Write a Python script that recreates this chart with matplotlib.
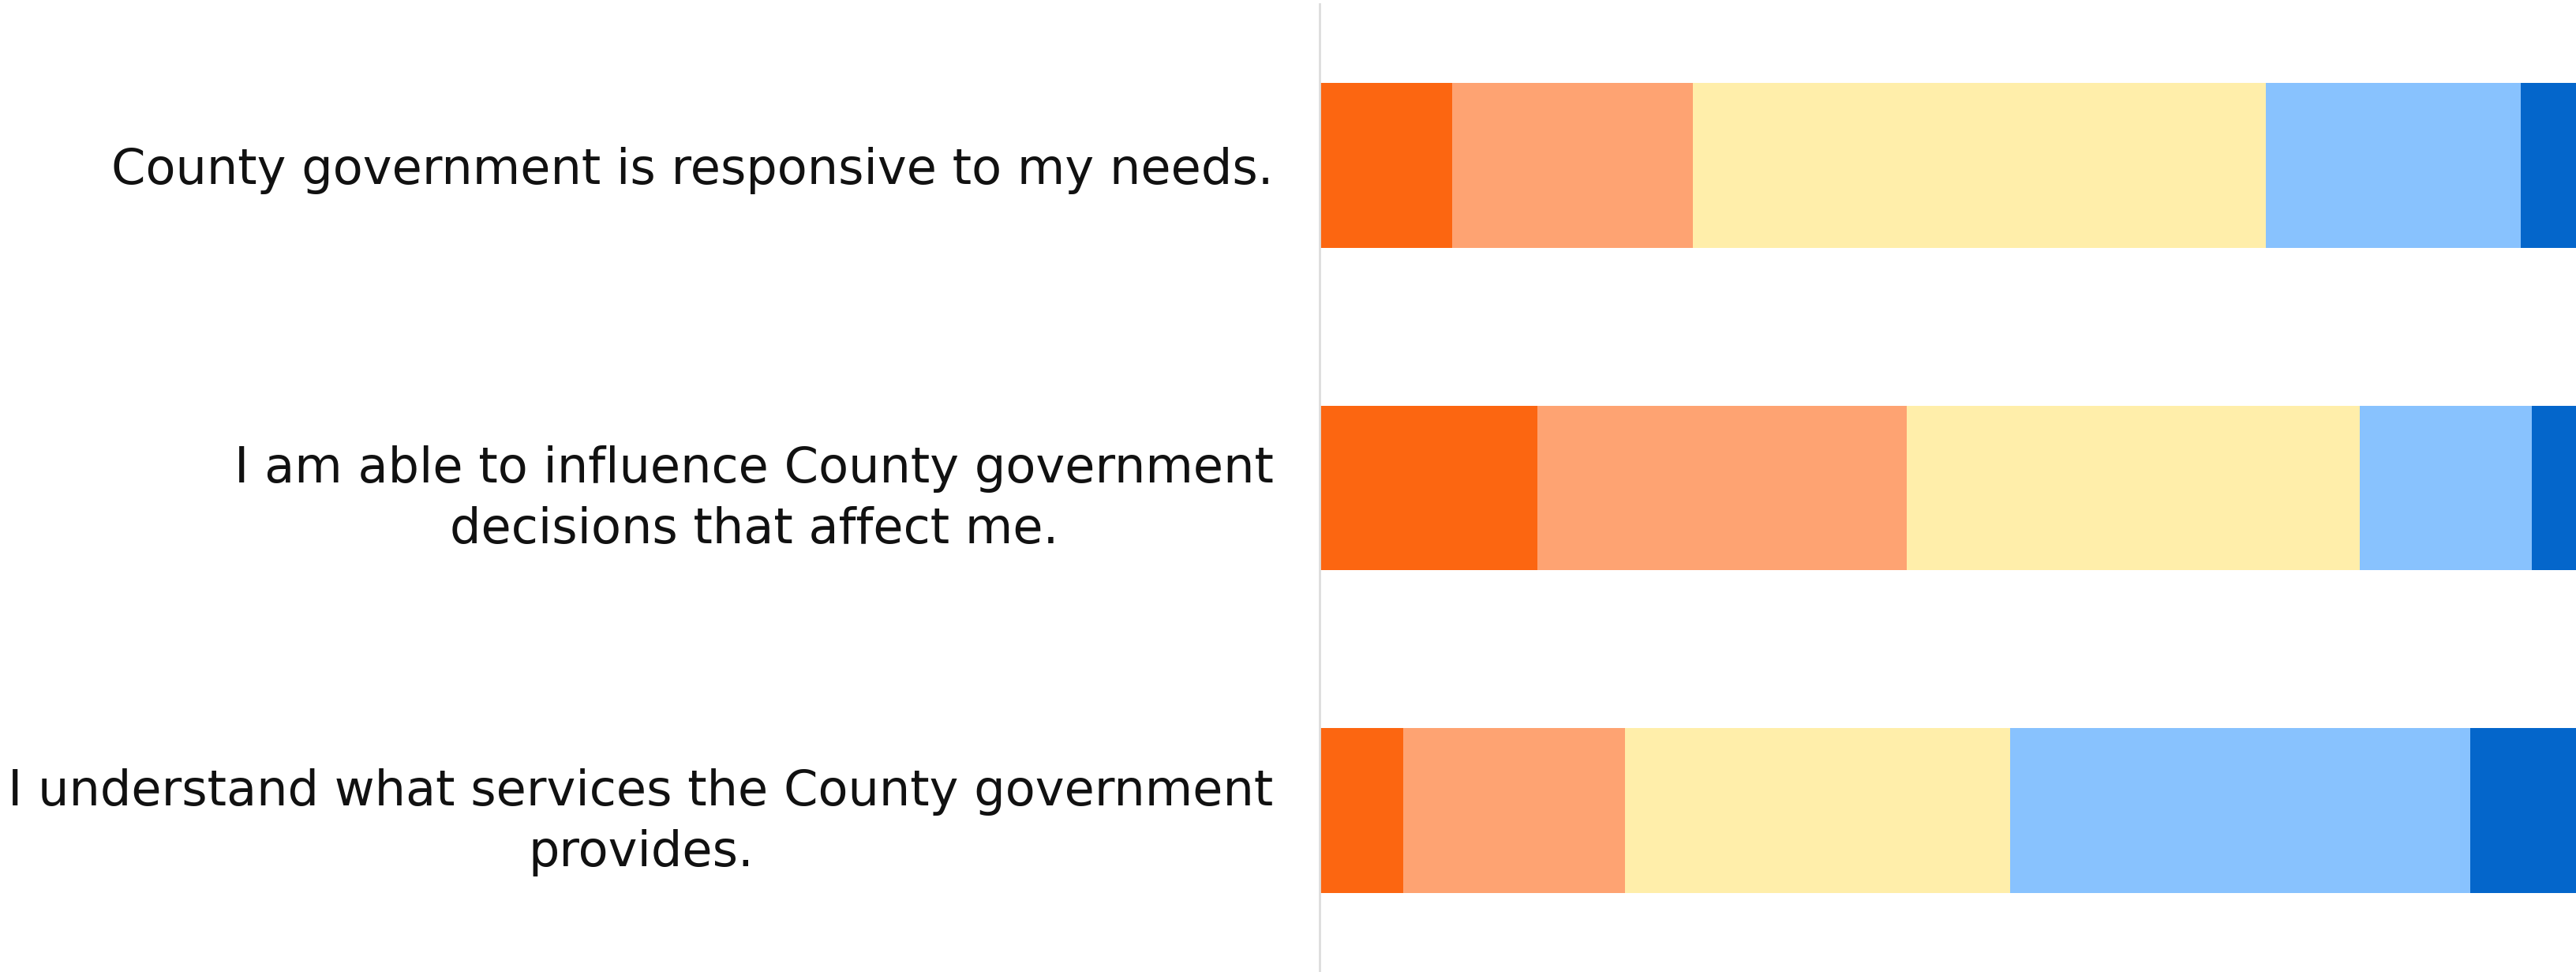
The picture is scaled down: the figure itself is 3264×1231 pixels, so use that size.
import numpy as np
import matplotlib.pyplot as plt

statements = [
    "County government is responsive to my needs.",
    "I am able to influence County government\ndecisions that affect me.",
    "I understand what services the County government\nprovides.",
]
strongly_disagree = [10.1, 16.6, 6.4]
disagree = [18.4, 28.2, 16.9]
neutral = [43.7, 34.6, 29.4]
agree = [19.5, 13.1, 35.1]
strongly_agree = [8.3, 7.5, 12.2]

colors = ['#fc6611', '#fea372', '#ffeeaa', '#88c2fe', '#0466cb']
series = [strongly_disagree, disagree, neutral, agree, strongly_agree]

plt.rcParams['font.family'] = ['DejaVu Sans']

fig = plt.figure(figsize=(32.64, 12.31), dpi=100)
ax = fig.add_axes([1672 / 3264, 0, 1 - 1672 / 3264, 1 - 5 / 1231])

y = np.arange(len(statements))
left = np.zeros(len(statements))
for vals, c in zip(series, colors):
    ax.barh(y, vals, left=left, height=0.51, color=c, linewidth=0)
    left += np.array(vals)

ax.set_xlim(0, 95.9)
ax.set_ylim(2.5, -0.5)
ax.set_yticks(y)
ax.set_yticklabels(statements, fontsize=44.8, multialignment='center',
                   color='#111111', linespacing=1.35)
ax.tick_params(axis='y', length=0, pad=42)
ax.set_xticks([])
for s in ['top', 'right', 'bottom']:
    ax.spines[s].set_visible(False)
ax.spines['left'].set_color('#dddddd')
ax.spines['left'].set_linewidth(2)

fig.savefig('out.png', dpi=100)
